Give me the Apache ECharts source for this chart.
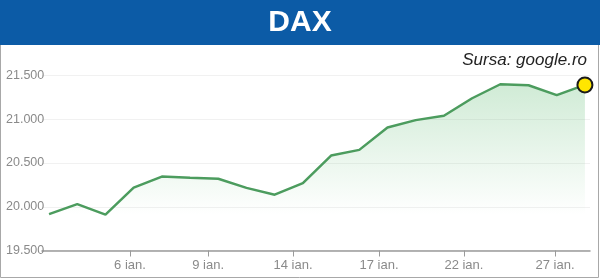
<!DOCTYPE html>
<html>
<head>
<meta charset="utf-8">
<script src="https://cdn.jsdelivr.net/npm/echarts@6/dist/echarts.min.js"></script>
<style>
html,body{margin:0;padding:0;background:#fff;}
#c{width:600px;height:279px;}
</style>
</head>
<body>
<div id="c"></div>
<script>
// Data
var pointIndex = [0,1,2,3,4,5,6,7,8,9,10,11,12,13,14,15,16,17,18,19];
var closeValues = [19915, 20030, 19910, 20218, 20345, 20332, 20320, 20216, 20138, 20270,
                   20585, 20650, 20905, 20990, 21040, 21240, 21400, 21388, 21275, 21392];
var tickPositions = [2.87, 5.64, 8.65, 11.70, 14.71, 17.94];
var tickLabels = ['6 ian.', '9 ian.', '14 ian.', '17 ian.', '22 ian.', '27 ian.'];
var yTicks = [19500, 20000, 20500, 21000, 21500];
var titleText = 'DAX';
var sourceText = 'Sursa: google.ro';

var lineData = pointIndex.map(function (x, i) { return [x, closeValues[i]]; });
var lastPoint = [[pointIndex[pointIndex.length - 1], closeValues[closeValues.length - 1]]];

var FONT = "'Liberation Sans', Arial, sans-serif";

var chart = echarts.init(document.getElementById('c'), null, {renderer: 'canvas'});
chart.setOption({
  animation: false,
  backgroundColor: '#ffffff',
  grid: {left: 42, right: 10, top: 75.5, bottom: 28.5, containLabel: false},
  xAxis: {
    type: 'value',
    min: -0.25,
    max: 19.18,
    axisLine: {show: true, lineStyle: {color: '#9a9a9a', width: 1.5}},
    axisTick: {show: true, customValues: tickPositions, length: 6, lineStyle: {color: '#9a9a9a', width: 1}},
    axisLabel: {
      show: true,
      customValues: tickPositions,
      margin: 8,
      color: '#8a8a8a',
      fontSize: 13,
      fontFamily: FONT,
      formatter: function (v) {
        for (var i = 0; i < tickPositions.length; i++) {
          if (Math.abs(tickPositions[i] - v) < 1e-6) return tickLabels[i];
        }
        return '';
      }
    },
    splitLine: {show: false}
  },
  yAxis: {
    type: 'value',
    min: yTicks[0],
    max: yTicks[yTicks.length - 1],
    interval: 500,
    axisLine: {show: false},
    axisTick: {show: false},
    axisLabel: {
      margin: 36,
      align: 'left',
      color: '#8a8a8a',
      fontSize: 12.5,
      fontFamily: FONT,
      formatter: function (v) { return (v / 1000).toFixed(3); }
    },
    splitLine: {show: true, lineStyle: {color: '#f1f1f1', width: 1}}
  },
  series: [
    {
      type: 'line',
      data: lineData,
      showSymbol: false,
      symbol: 'none',
      lineStyle: {color: '#4c9c5e', width: 2.5},
      areaStyle: {
        color: new echarts.graphic.LinearGradient(0, 80, 0, 215, [
          {offset: 0, color: 'rgba(90,185,110,0.42)'},
          {offset: 1, color: 'rgba(90,185,110,0)'}
        ], true)
      },
      z: 2
    },
    {
      type: 'scatter',
      data: lastPoint,
      symbol: 'circle',
      symbolSize: 15,
      itemStyle: {color: '#ffe600', borderColor: '#1a1a1a', borderWidth: 2, opacity: 1},
      z: 5
    }
  ],
  graphic: [
    {
      type: 'rect',
      shape: {x: 0.5, y: 0.5, width: 598, height: 277},
      style: {fill: 'none', stroke: '#a8a8a8', lineWidth: 1},
      z: 0
    },
    {
      type: 'rect',
      shape: {x: 0, y: 0, width: 600, height: 45},
      style: {fill: '#0c5ba6'},
      z: 10
    },
    {
      type: 'text',
      x: 300,
      y: 23,
      style: {
        text: titleText,
        fill: '#ffffff',
        font: "bold 30px 'Liberation Sans', Arial, sans-serif",
        align: 'center',
        verticalAlign: 'middle'
      },
      z: 11
    },
    {
      type: 'text',
      x: 587,
      y: 60,
      style: {
        text: sourceText,
        fill: '#222222',
        font: "italic 17px 'Liberation Sans', Arial, sans-serif",
        align: 'right',
        verticalAlign: 'middle'
      },
      z: 11
    }
  ]
});
</script>
</body>
</html>
